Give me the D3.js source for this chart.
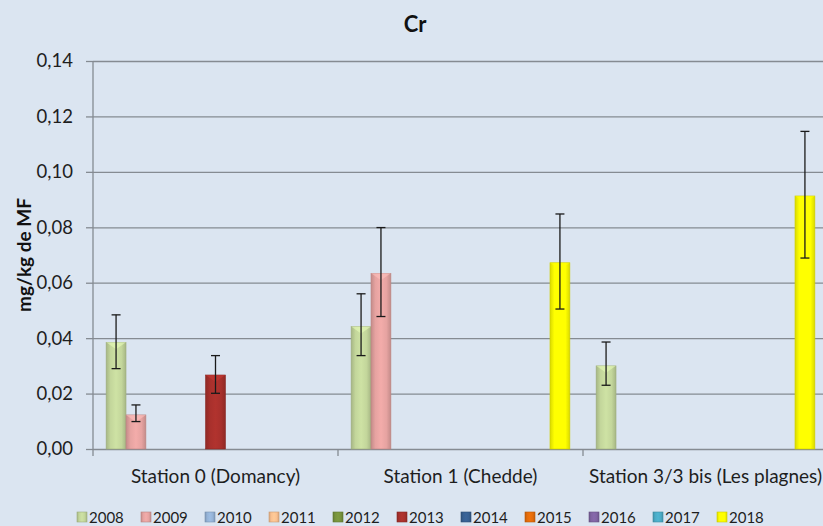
<!DOCTYPE html>
<html>
<head>
<meta charset="utf-8">
<script src="https://cdn.jsdelivr.net/npm/d3@7"></script>
<style>
  body { margin: 0; background: #dbe5f1; }
  svg { display: block; font-family: Lato, "Open Sans", sans-serif; }
</style>
</head>
<body>
<svg width="823" height="526"></svg>
<script>
// data
var categories = ["Station 0 (Domancy)", "Station 1 (Chedde)", "Station 3/3 bis (Les plagnes)"];
var years = ["2008", "2009", "2010", "2011", "2012", "2013", "2014", "2015", "2016", "2017", "2018"];
var colors = ["#c3d69b", "#e6a3a1", "#95b3d7", "#fac090", "#77933c", "#a8302c", "#376092", "#e46c0a", "#8064a2", "#4bacc6", "#ffff00"];
// one list per year, one value per station (null = no bar)
var seriesValues = [
  [0.0385, 0.0442, 0.0300],
  [0.0123, 0.0634, null],
  [null, null, null],
  [null, null, null],
  [null, null, null],
  [0.0267, null, null],
  [null, null, null],
  [null, null, null],
  [null, null, null],
  [null, null, null],
  [null, 0.0672, 0.0913]
];
var errorLow = [
  [0.0290, 0.0337, 0.0230],
  [0.0099, 0.0478, null],
  [null, null, null],
  [null, null, null],
  [null, null, null],
  [0.0201, null, null],
  [null, null, null],
  [null, null, null],
  [null, null, null],
  [null, null, null],
  [null, 0.0505, 0.0689]
];
var errorHigh = [
  [0.0484, 0.0560, 0.0386],
  [0.0159, 0.0799, null],
  [null, null, null],
  [null, null, null],
  [null, null, null],
  [0.0337, null, null],
  [null, null, null],
  [null, null, null],
  [null, null, null],
  [null, null, null],
  [null, 0.0848, 0.1146]
];
var yTicks = [0, 0.02, 0.04, 0.06, 0.08, 0.10, 0.12, 0.14];

var svg = d3.select("svg");
var plotLeft = 93, plotRight = 828, plotTop = 61, plotBottom = 449;

var x0 = d3.scaleBand().domain(categories).range([plotLeft, plotRight]);
var x1 = d3.scaleBand().domain(years).range([0, x0.bandwidth()]).paddingInner(0).paddingOuter(0.66);
var y = d3.scaleLinear().domain([0, 0.14]).range([plotBottom, plotTop]);
var fmt = function(d) { return d3.format(".2f")(d).replace(".", ","); };

// gradients for the glossy excel look
var defs = svg.append("defs");
colors.forEach(function(c, i) {
  var g = defs.append("linearGradient").attr("id", "g" + i)
    .attr("x1", "0%").attr("x2", "100%").attr("y1", "0%").attr("y2", "0%");
  var base = d3.color(c);
  g.append("stop").attr("offset", "0%").attr("stop-color", base.darker(0.45));
  g.append("stop").attr("offset", "22%").attr("stop-color", base);
  g.append("stop").attr("offset", "50%").attr("stop-color", base.brighter(0.15));
  g.append("stop").attr("offset", "78%").attr("stop-color", base);
  g.append("stop").attr("offset", "100%").attr("stop-color", base.darker(0.45));
});

// title
svg.append("text").attr("x", 415).attr("y", 32).attr("text-anchor", "middle")
  .attr("font-size", 22).attr("font-weight", "bold").attr("fill", "#111").text("Cr");

// y axis label
svg.append("text").attr("transform", "translate(31," + ((plotTop + plotBottom) / 2) + ") rotate(-90)")
  .attr("text-anchor", "middle").attr("font-size", 19).attr("font-weight", "bold").attr("fill", "#111")
  .text("mg/kg de MF");

// y axis with gridlines
var yAxis = svg.append("g").attr("transform", "translate(" + plotLeft + ",0)")
  .call(d3.axisLeft(y).tickValues(yTicks).tickFormat(fmt).tickSize(7).tickPadding(13));
yAxis.select(".domain").remove();
yAxis.selectAll(".tick line").attr("stroke", "#858b92").attr("stroke-width", 1.3);
yAxis.selectAll(".tick text").attr("font-size", 18.5).attr("fill", "#1e1e1e").attr("font-family", "Lato");
yAxis.selectAll(".tick").append("line").attr("x1", 0).attr("x2", plotRight - plotLeft)
  .attr("stroke", "#858b92").attr("stroke-width", 1.3);
svg.append("line").attr("x1", plotLeft).attr("x2", plotLeft).attr("y1", plotTop).attr("y2", plotBottom)
  .attr("stroke", "#858b92").attr("stroke-width", 1.3);

// x axis: category ticks and labels
var xAxis = svg.append("g").attr("transform", "translate(0," + plotBottom + ")");
xAxis.selectAll("line.ct").data(categories).enter().append("line").attr("class", "ct")
  .attr("x1", function(d) { return x0(d); }).attr("x2", function(d) { return x0(d); })
  .attr("y1", 0).attr("y2", 7).attr("stroke", "#858b92").attr("stroke-width", 1.3);
xAxis.selectAll("text").data(categories).enter().append("text")
  .attr("x", function(d) { return x0(d) + x0.bandwidth() / 2; }).attr("y", 34)
  .attr("text-anchor", "middle").attr("font-size", 19).attr("fill", "#1e1e1e").text(function(d) { return d; });

// bars
var barData = [];
years.forEach(function(yr, i) {
  categories.forEach(function(cat, j) {
    if (seriesValues[i][j] != null) {
      barData.push({ year: yr, idx: i, cat: cat, v: seriesValues[i][j], lo: errorLow[i][j], hi: errorHigh[i][j] });
    }
  });
});

var bars = svg.append("g");
bars.selectAll("rect").data(barData).enter().append("rect")
  .attr("x", function(d) { return x0(d.cat) + x1(d.year); })
  .attr("y", function(d) { return y(d.v); })
  .attr("width", x1.bandwidth())
  .attr("height", function(d) { return y(0) - y(d.v); })
  .attr("fill", function(d) { return "url(#g" + d.idx + ")"; })
  .attr("stroke", function(d) { return d3.color(colors[d.idx]).darker(0.6); })
  .attr("stroke-width", 0.6);
// small lighter bevel on the top of each bar
bars.selectAll("path.bevel").data(barData).enter().append("path").attr("class", "bevel")
  .attr("d", function(d) {
    var bx = x0(d.cat) + x1(d.year), w = x1.bandwidth(), by = y(d.v);
    return "M" + bx + "," + by + "h" + w + "l-" + (w / 2) + ",7z";
  })
  .attr("fill", function(d) { return d3.color(colors[d.idx]).brighter(0.5); })
  .attr("opacity", 0.55);

// error bars
var err = svg.append("g").attr("stroke", "#1a1a1a").attr("stroke-width", 1.3);
barData.forEach(function(d) {
  var cx = x0(d.cat) + x1(d.year) + x1.bandwidth() / 2;
  err.append("line").attr("x1", cx).attr("x2", cx).attr("y1", y(d.lo)).attr("y2", y(d.hi));
  err.append("line").attr("x1", cx - 4.5).attr("x2", cx + 4.5).attr("y1", y(d.lo)).attr("y2", y(d.lo));
  err.append("line").attr("x1", cx - 4.5).attr("x2", cx + 4.5).attr("y1", y(d.hi)).attr("y2", y(d.hi));
});

// legend
var legend = svg.append("g");
var item = legend.selectAll("g").data(years).enter().append("g")
  .attr("transform", function(d, i) { return "translate(" + (77 + i * 64) + ",517)"; });
item.append("rect").attr("x", 0).attr("y", -5).attr("width", 10).attr("height", 10)
  .attr("fill", function(d, i) { return "url(#g" + i + ")"; })
  .attr("stroke", function(d, i) { return d3.color(colors[i]).darker(0.6); }).attr("stroke-width", 0.6);
item.append("text").attr("x", 12).attr("y", 5.5).attr("font-size", 15).attr("fill", "#1e1e1e")
  .text(function(d) { return d; });
</script>
</body>
</html>
